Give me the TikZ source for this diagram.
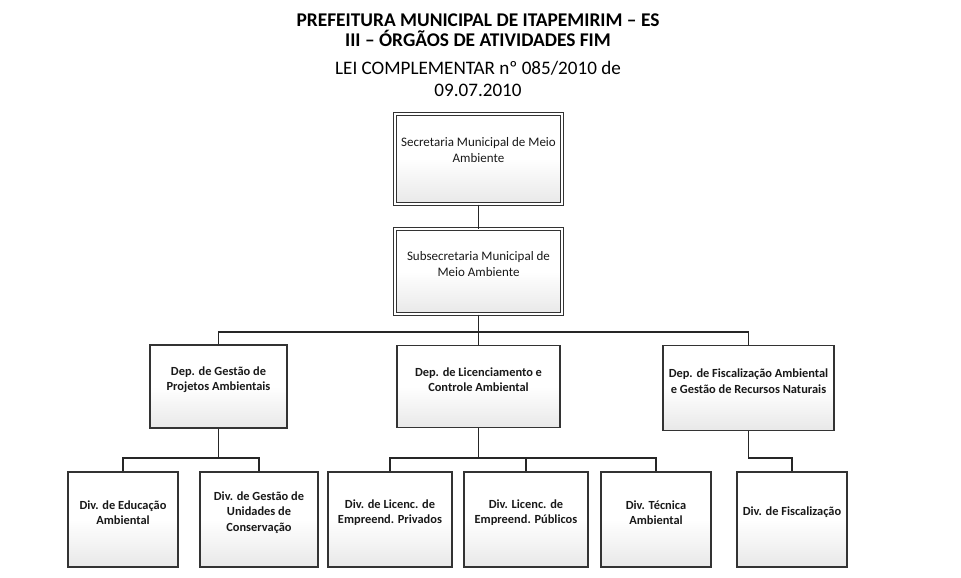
\documentclass[tikz,border=0pt]{standalone}
\usepackage{fontspec}
\setmainfont{Carlito}
\usetikzlibrary{positioning}

\tikzset{
  orgbox/.style={draw=black!80, line width=1.5pt, top color=white, bottom color=black!9,
    middle color=white, inner sep=0pt},
  topbox/.style={orgbox, double=white, double distance=2.2pt, line width=1pt},
  boxtext/.style={font=\fontsize{13}{16}\selectfont, align=center, text=black!90},
  deptext/.style={boxtext, font=\fontsize{12.4}{15.5}\selectfont\bfseries},
  link/.style={draw=black!85, line width=1.2pt}
}

\begin{document}
\begin{tikzpicture}[x=1pt, y=-1pt]
  \useasboundingbox (0,0) rectangle (961,578);

  % Title
  \node[font=\fontsize{19.4}{20.5}\selectfont\bfseries, align=center] (title) at (478,30)
    {PREFEITURA MUNICIPAL DE ITAPEMIRIM – ES\\III – ÓRGÃOS DE ATIVIDADES FIM};
  \node[font=\fontsize{19.1}{22}\selectfont, align=center] (law) at (478,79)
    {LEI COMPLEMENTAR nº 085/2010 de\\09.07.2010};

  % Secretaria and Subsecretaria
  \node[topbox, minimum width=167, minimum height=90,
    label={[boxtext, yshift=9pt]center:{Secretaria Municipal de Meio\\Ambiente}}]
    (sec) at (478.5,159) {};
  \node[topbox, minimum width=167, minimum height=85,
    label={[boxtext, yshift=7pt]center:{Subsecretaria Municipal de\\Meio Ambiente}}]
    (sub) at (478.5,271.5) {};

  % Departamentos
  \node[orgbox, minimum width=137, minimum height=83,
    label={[deptext, yshift=7pt]center:{Dep. de Gestão de\\Projetos Ambientais}}]
    (dep1) at (218.5,386.5) {};
  \node[orgbox, minimum width=163, minimum height=82,
    label={[deptext, yshift=7pt]center:{Dep. de Licenciamento e\\Controle Ambiental}}]
    (dep2) at (478.5,386.5) {};
  \node[orgbox, minimum width=171, minimum height=85,
    label={[deptext, yshift=7pt]center:{Dep. de Fiscalização Ambiental\\e Gestão de Recursos Naturais}}]
    (dep3) at (748.5,388) {};

  % Divisoes
  \node[orgbox, minimum width=110, minimum height=95,
    label={[deptext, yshift=7pt]center:{Div. de Educação\\Ambiental}}]
    (div1) at (123,519.5) {};
  \node[orgbox, minimum width=118, minimum height=95,
    label={[deptext, yshift=7pt]center:{Div. de Gestão de\\Unidades de\\Conservação}}]
    (div2) at (259,519.5) {};
  \node[orgbox, minimum width=124, minimum height=95,
    label={[deptext, yshift=7pt]center:{Div. de Licenc. de\\Empreend. Privados}}]
    (div3) at (390,519.5) {};
  \node[orgbox, minimum width=124, minimum height=95,
    label={[deptext, yshift=7pt]center:{Div. Licenc. de\\Empreend. Públicos}}]
    (div4) at (526,519.5) {};
  \node[orgbox, minimum width=110, minimum height=95,
    label={[deptext, yshift=7pt]center:{Div. Técnica\\Ambiental}}]
    (div5) at (656,519.5) {};
  \node[orgbox, minimum width=110, minimum height=95,
    label={[deptext, yshift=7pt]center:{Div. de Fiscalização}}]
    (div6) at (792,519.5) {};

  % Connectors
  \coordinate (busA) at (478.5,332);
  \coordinate (busB) at (218.5,458);
  \coordinate (busC) at (478.5,458);
  \coordinate (busD) at (748.5,458);

  \path[link] (sec.south) -- (sub.north);
  \path[link] (sub.south) -- (busA);
  \path[link] (dep1.north) |- (busA) -| (dep3.north);
  \path[link] (busA) -- (dep2.north);

  \path[link] (dep1.south) -- (busB);
  \path[link] (div1.north) |- (busB) -| (div2.north);

  \path[link] (dep2.south) -- (busC);
  \path[link] (div3.north) |- (busC) -| (div5.north);
  \path[link] (div4.north) -- (div4.north |- busC);

  \path[link] (dep3.south) -- (busD) -| (div6.north);
\end{tikzpicture}
\end{document}
